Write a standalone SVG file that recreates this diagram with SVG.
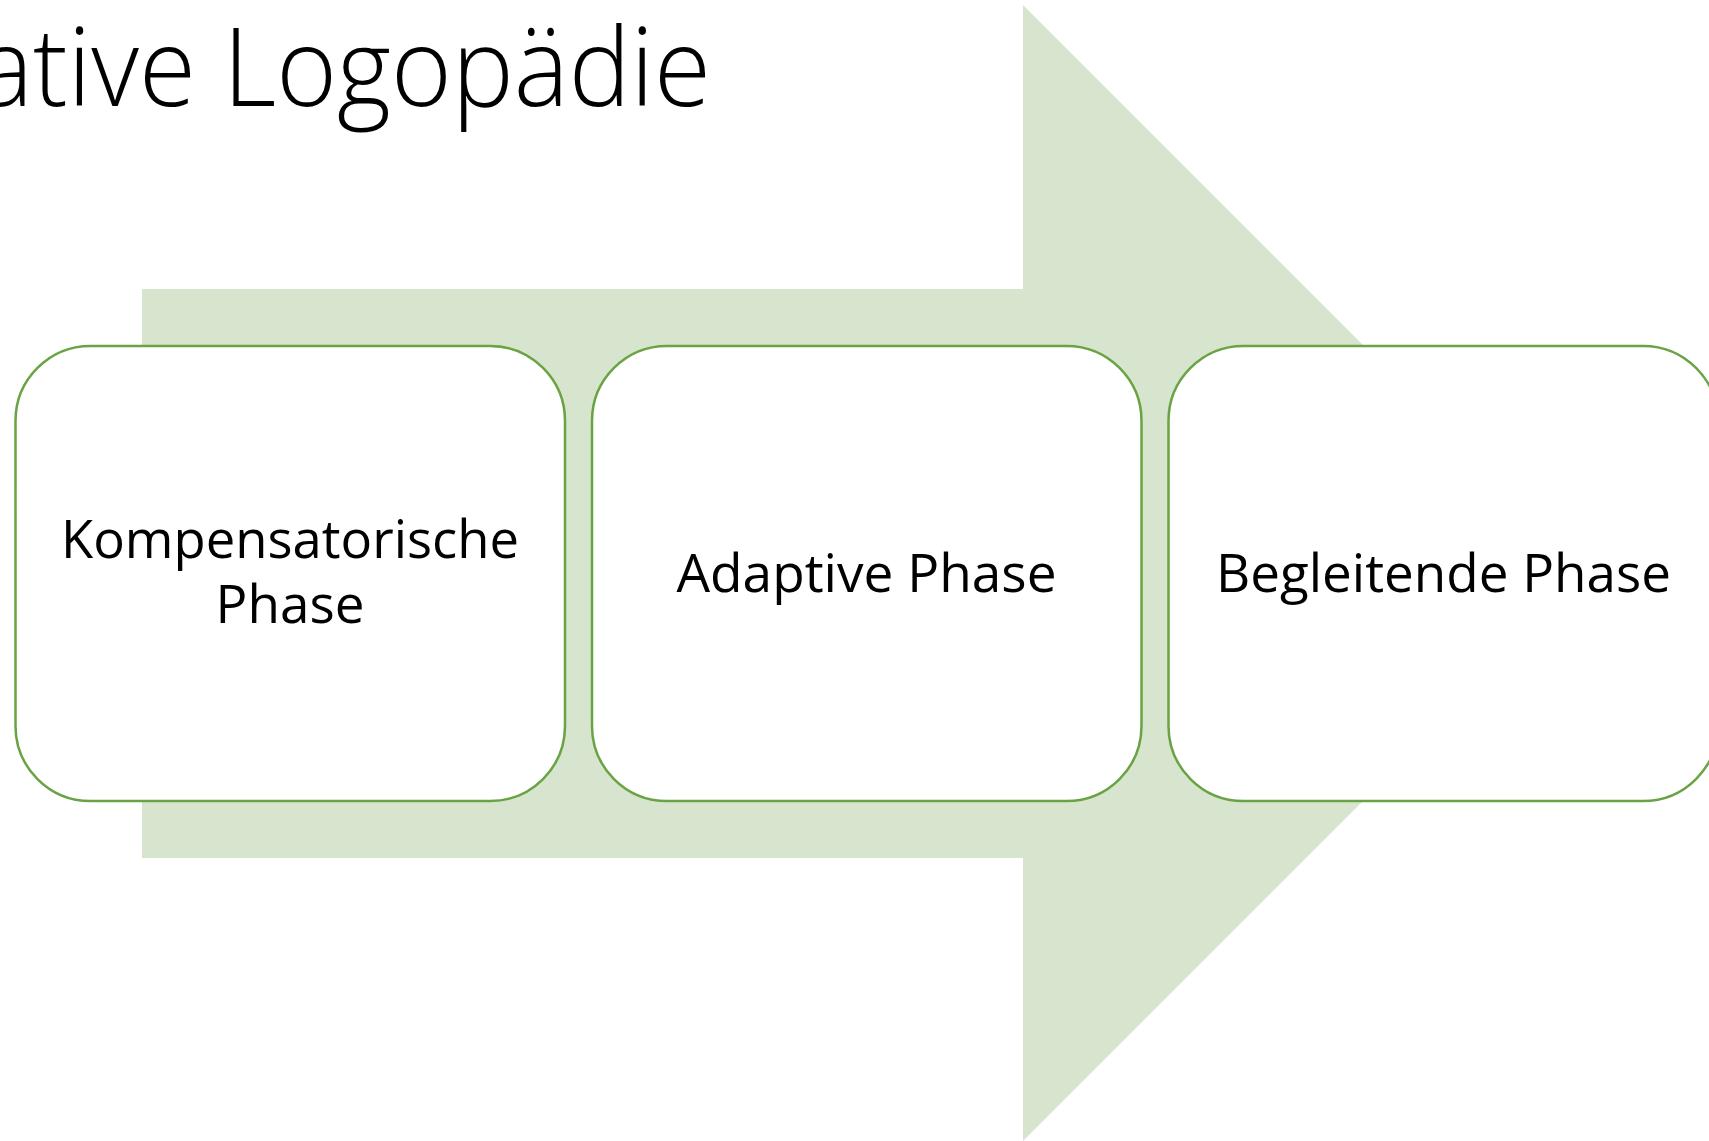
<svg xmlns="http://www.w3.org/2000/svg" width="1709" height="1141" viewBox="0 0 1709 1141">
<style>
.box{fill:#FFFFFF;stroke:#6AA343;stroke-width:2.5}
.lbl{font-family:"Open Sans","Liberation Sans",sans-serif;font-size:53px;fill:#000000;text-anchor:middle}
.title{font-family:"Open Sans","Liberation Sans",sans-serif;font-weight:300;font-size:108px;fill:#000000}
</style>
<rect width="1709" height="1141" fill="#FFFFFF"/>
<text class="title" x="-22" y="106" textLength="733" lengthAdjust="spacingAndGlyphs">ative Logopädie</text>
<g id="connectors">
<polygon id="arrow" points="142,289 1023,289 1023,5 1591,573 1023,1141 1023,858 142,858" fill="#D7E4CE"/>
</g>
<g id="node1">
<rect class="box" x="15.5" y="346" width="549.5" height="455" rx="75" ry="75"/>
<text class="lbl" x="290" y="558" textLength="458" lengthAdjust="spacingAndGlyphs">Kompensatorische</text>
<text class="lbl" x="290" y="623">Phase</text>
</g>
<g id="node2">
<rect class="box" x="592" y="346" width="549.5" height="455" rx="75" ry="75"/>
<text class="lbl" x="866.5" y="592" textLength="380" lengthAdjust="spacingAndGlyphs">Adaptive Phase</text>
</g>
<g id="node3">
<rect class="box" x="1168.5" y="346" width="549.5" height="455" rx="75" ry="75"/>
<text class="lbl" x="1443.5" y="592" textLength="455" lengthAdjust="spacingAndGlyphs">Begleitende Phase</text>
</g>
</svg>
